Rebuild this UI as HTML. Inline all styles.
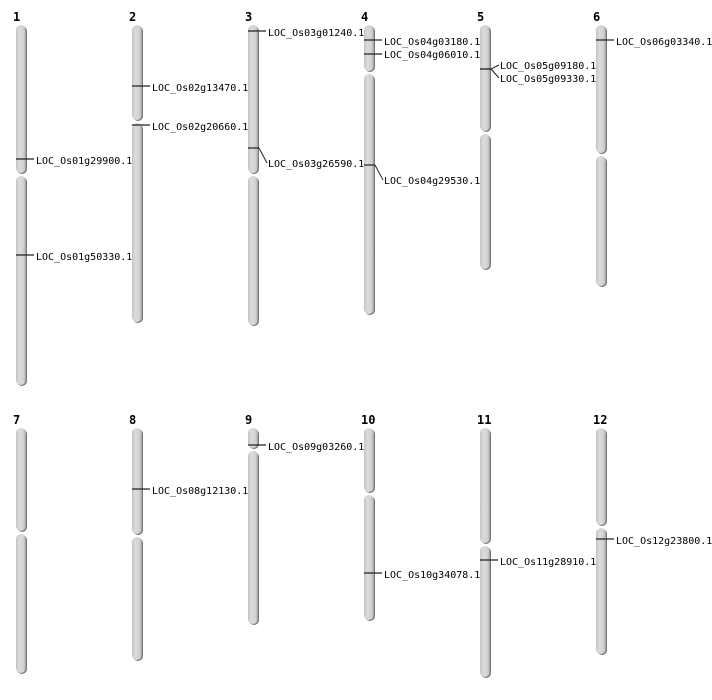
<!DOCTYPE html>
<html><head><meta charset="utf-8">
<style>
html,body{margin:0;padding:0;background:#fff;}
svg{display:block;}
text{font-family:"DejaVu Sans Mono","Liberation Mono",monospace;font-size:10px;fill:#000;}
.num{font-family:"DejaVu Sans Mono","Liberation Mono",monospace;font-weight:bold;font-size:12px;}
</style></head>
<body>
<svg id="s" width="712" height="700" xmlns="http://www.w3.org/2000/svg">
<defs>
<linearGradient id="g" x1="0" x2="1" y1="0" y2="0">
<stop offset="0" stop-color="#c4c4c4"/>
<stop offset="0.35" stop-color="#dcdcdc"/>
<stop offset="0.8" stop-color="#cfcfcf"/>
<stop offset="1" stop-color="#9a9a9a"/>
</linearGradient>
</defs>
</svg>
<script>
var s=document.getElementById('s'),h='';
var chr=[
[1,16,25,386,175],[2,132,25,323,122],[3,248,25,326,175],[4,364,25,315,73],[5,480,25,270,133],[6,596,25,287,155],
[7,16,428,674,533],[8,132,428,661,536],[9,248,428,625,450],[10,364,428,621,494],[11,480,428,678,545],[12,596,428,655,527]];
chr.forEach(function(c){
var x=c[1],t=c[2],b=c[3],m=c[4],w=10;
h+='<text class="num" x="'+(x-3)+'" y="'+(t-4)+'">'+c[0]+'</text>';
h+='<rect x="'+(x+1)+'" y="'+(t+1)+'" width="'+w+'" height="'+(m-t-2)+'" rx="5" fill="#777"/>';
h+='<rect x="'+(x+1)+'" y="'+(m+2)+'" width="'+w+'" height="'+(b-m-2)+'" rx="5" fill="#777"/>';
h+='<rect x="'+x+'" y="'+t+'" width="'+w+'" height="'+(m-t-2)+'" rx="5" fill="url(#g)"/>';
h+='<rect x="'+x+'" y="'+(m+1)+'" width="'+w+'" height="'+(b-m-2)+'" rx="5" fill="url(#g)"/>';
});
var mk=[
[16,159,164,'LOC_Os01g29900.1'],[16,255,260,'LOC_Os01g50330.1'],
[132,86,91,'LOC_Os02g13470.1'],[132,125,130,'LOC_Os02g20660.1'],
[248,31,36,'LOC_Os03g01240.1'],[248,148,167,'LOC_Os03g26590.1',1],
[364,40,45,'LOC_Os04g03180.1'],[364,54,58,'LOC_Os04g06010.1'],[364,165,184,'LOC_Os04g29530.1',1],
[480,69,69,'LOC_Os05g09180.1',1],[480,69,82,'LOC_Os05g09330.1',1],
[596,40,45,'LOC_Os06g03340.1'],
[132,489,494,'LOC_Os08g12130.1'],[248,445,450,'LOC_Os09g03260.1'],
[364,573,578,'LOC_Os10g34078.1'],[480,560,565,'LOC_Os11g28910.1'],[596,539,544,'LOC_Os12g23800.1']];
mk.forEach(function(k){
var x=k[0],y=k[1],ly=k[2]-4;
if(k[4]){
h+='<line x1="'+x+'" y1="'+y+'" x2="'+(x+11)+'" y2="'+y+'" stroke="#222" stroke-width="1.2"/>';
h+='<line x1="'+(x+11)+'" y1="'+y+'" x2="'+(x+19)+'" y2="'+ly+'" stroke="#222" stroke-width="1"/>';
}else{
h+='<line x1="'+x+'" y1="'+y+'" x2="'+(x+18)+'" y2="'+y+'" stroke="#222" stroke-width="1.2"/>';
}
h+='<text x="'+(x+20)+'" y="'+k[2]+'">'+k[3]+'</text>';
});
s.insertAdjacentHTML('beforeend',h);
</script>
</body></html>
